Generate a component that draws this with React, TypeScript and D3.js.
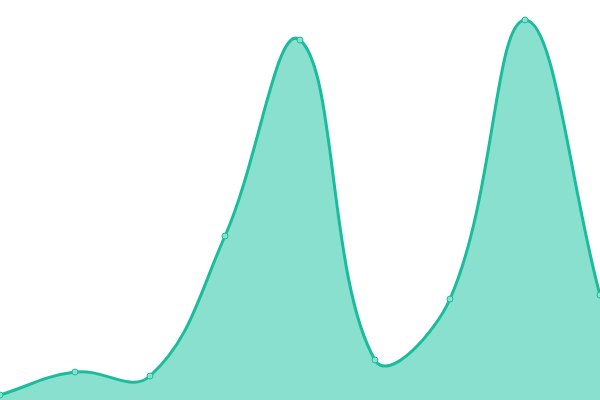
import React from 'react';
import * as d3 from 'd3';

const categories = ['A', 'B', 'C', 'D', 'E', 'F', 'G', 'H', 'I'];
const values = [5, 28, 24, 164, 360, 40, 101, 380, 105];

const WIDTH = 600;
const HEIGHT = 400;
const TENSION = 0.4;

type Pt = [number, number];

// spline through the points, control points weighted by segment length
function splinePath(pts: Pt[], closeToBottom: boolean): string {
  const clampX = (v: number) => Math.max(0, Math.min(WIDTH, v));
  const clampY = (v: number) => Math.max(0, Math.min(HEIGHT, v));
  const ctrl = pts.map((cur, i) => {
    const prev = pts[i - 1] || cur;
    const next = pts[i + 1] || cur;
    const d01 = Math.hypot(cur[0] - prev[0], cur[1] - prev[1]);
    const d12 = Math.hypot(next[0] - cur[0], next[1] - cur[1]);
    let s01 = d01 / (d01 + d12);
    let s12 = d12 / (d01 + d12);
    if (isNaN(s01)) s01 = 0;
    if (isNaN(s12)) s12 = 0;
    const fa = TENSION * s01;
    const fb = TENSION * s12;
    return {
      prev: [clampX(cur[0] - fa * (next[0] - prev[0])), clampY(cur[1] - fa * (next[1] - prev[1]))] as Pt,
      next: [clampX(cur[0] + fb * (next[0] - prev[0])), clampY(cur[1] + fb * (next[1] - prev[1]))] as Pt,
    };
  });

  const p = d3.path();
  p.moveTo(pts[0][0], pts[0][1]);
  for (let i = 1; i < pts.length; i++) {
    const a = ctrl[i - 1].next;
    const b = ctrl[i].prev;
    p.bezierCurveTo(a[0], a[1], b[0], b[1], pts[i][0], pts[i][1]);
  }
  if (closeToBottom) {
    p.lineTo(pts[pts.length - 1][0], HEIGHT);
    p.lineTo(pts[0][0], HEIGHT);
    p.closePath();
  }
  return p.toString();
}

const App: React.FC = () => {
  const xScale = d3.scalePoint<string>().domain(categories).range([0, WIDTH]);
  const yScale = d3.scaleLinear().domain([0, 400]).range([HEIGHT, 0]);

  const pts: Pt[] = categories.map((c, i) => [xScale(c) as number, yScale(values[i])]);

  return (
    <svg
      width={WIDTH}
      height={HEIGHT}
      style={{ position: 'fixed', left: 0, top: 0, background: '#fff' }}
    >
      <path d={splinePath(pts, true)} fill="#8ae0cf" />
      <path d={splinePath(pts, false)} fill="none" stroke="#1abc9c" strokeWidth={3} />
      {pts.map((p, i) => (
        <circle
          key={categories[i]}
          cx={p[0]}
          cy={p[1]}
          r={3}
          fill="#8ae0cf"
          stroke="#1abc9c"
          strokeWidth={1}
        />
      ))}
    </svg>
  );
};

export default App;
